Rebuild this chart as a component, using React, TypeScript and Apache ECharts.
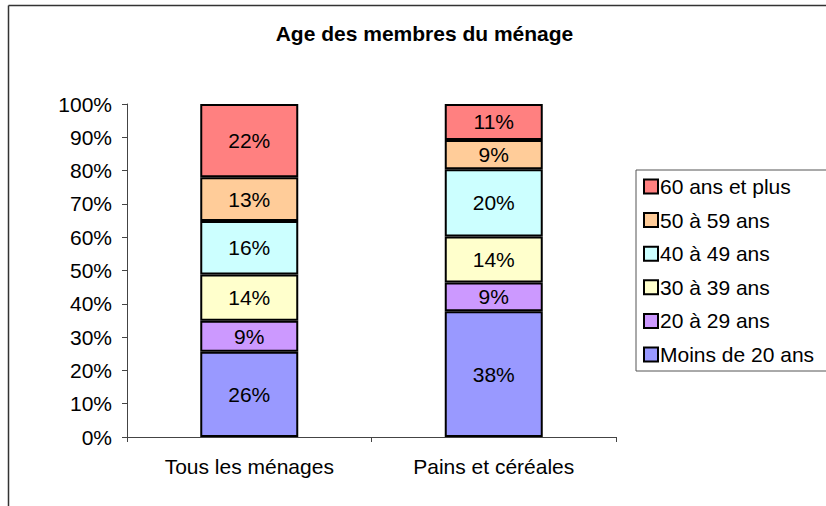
import React, { useEffect, useRef } from "react";
import * as echarts from "echarts";

const categories = ["Tous les ménages", "Pains et céréales"];
const seriesNames = [
  "Moins de 20 ans",
  "20 à 29 ans",
  "30 à 39 ans",
  "40 à 49 ans",
  "50 à 59 ans",
  "60 ans et plus",
];
const moins20 = [25.6, 37.8];
const a20_29 = [9.3, 8.6];
const a30_39 = [13.9, 13.8];
const a40_49 = [16.1, 20.2];
const a50_59 = [13.1, 8.8];
const plus60 = [22.0, 10.8];
const seriesValues = [moins20, a20_29, a30_39, a40_49, a50_59, plus60];
const colors = ["#9999FF", "#CC99FF", "#FFFFCC", "#CCFFFF", "#FFCC99", "#FF8080"];
const yTicks = [0, 10, 20, 30, 40, 50, 60, 70, 80, 90, 100];

const FONT = "'Liberation Sans', Arial, sans-serif";

export default function App() {
  const ref = useRef<HTMLDivElement>(null);
  useEffect(() => {
    if (!ref.current) return;
    const chart = echarts.init(ref.current, null, { renderer: "svg" });
    chart.setOption({
      animation: false,
      backgroundColor: "#fff",
      textStyle: { fontFamily: FONT },
      title: {
        text: "Age des membres du ménage",
        left: 424.5,
        top: 23,
        textAlign: "center",
        padding: 0,
        textStyle: { fontFamily: FONT, fontSize: 21, fontWeight: "bold", color: "#000" },
      },
      graphic: [
        { type: "line", shape: { x1: 8.5, y1: 5.5, x2: 8.5, y2: 506 }, style: { stroke: "#333", lineWidth: 1.5 } },
        { type: "line", shape: { x1: 8.5, y1: 5.5, x2: 826, y2: 5.5 }, style: { stroke: "#333", lineWidth: 1.5 } },
      ],
      legend: {
        orient: "vertical",
        left: 636,
        top: 170,
        padding: [6, 30, 6, 7],
        itemGap: 12.6,
        itemWidth: 14,
        itemHeight: 14,
        borderColor: "#555",
        borderWidth: 1,
        icon: "rect",
        data: seriesNames.slice().reverse(),
        textStyle: { fontFamily: FONT, fontSize: 21, color: "#000", lineHeight: 21, padding: [0, 0, 0, -3] },
      },
      grid: { left: 127, right: 210, top: 104, bottom: 69 },
      xAxis: {
        type: "category",
        data: categories,
        axisLine: { lineStyle: { color: "#444", width: 1 } },
        axisTick: { show: true, length: 5, lineStyle: { color: "#444" } },
        axisLabel: { fontFamily: FONT, fontSize: 21, color: "#000", margin: 19 },
      },
      yAxis: {
        type: "value",
        min: yTicks[0],
        max: yTicks[yTicks.length - 1],
        interval: 10,
        splitLine: { show: false },
        axisLine: { show: true, lineStyle: { color: "#444", width: 1 } },
        axisTick: { show: true, length: 5, lineStyle: { color: "#444" } },
        axisLabel: { fontFamily: FONT, fontSize: 21, color: "#000", margin: 15, formatter: "{value}%" },
      },
      series: seriesNames.map((name, i) => ({
        name,
        type: "bar",
        stack: "total",
        barWidth: 98,
        data: seriesValues[i],
        itemStyle: { color: colors[i], borderColor: "#000", borderWidth: 2 },
        label: {
          show: true,
          position: "inside",
          fontFamily: FONT,
          fontSize: 21,
          color: "#000",
          formatter: (p: any) => Math.round(p.value) + "%",
        },
      })),
    });
    return () => chart.dispose();
  }, []);
  return <div ref={ref} style={{ position: "absolute", left: 0, top: 0, width: 826, height: 506 }} />;
}
